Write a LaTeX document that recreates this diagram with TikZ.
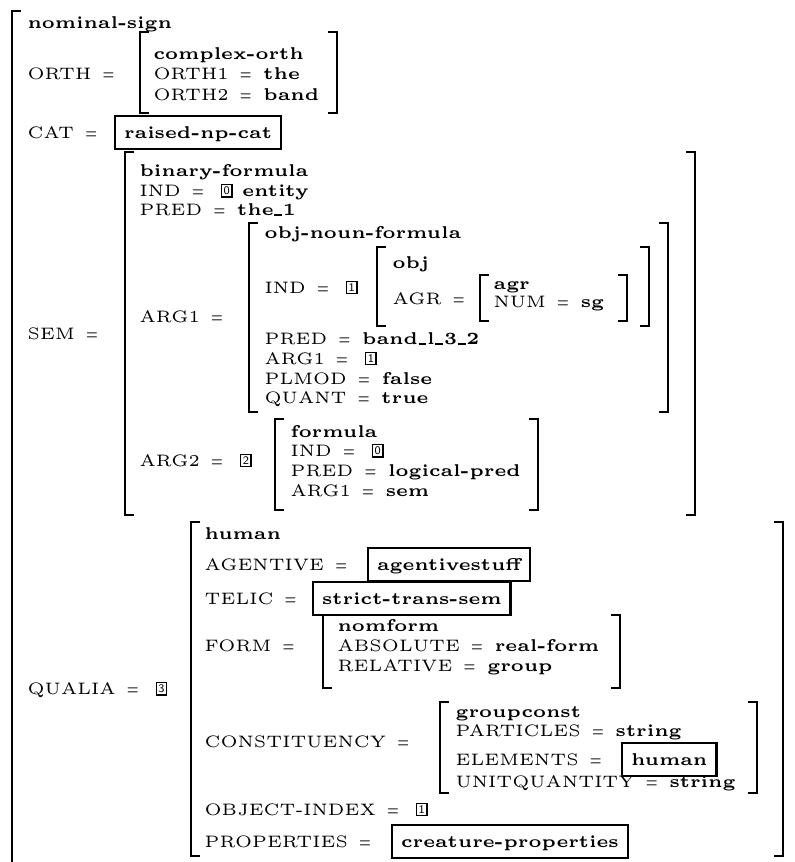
\documentclass[tikz,border=0pt]{standalone}
\usepackage{graphicx}
\newcommand\bv[1]{{\fontsize{5.3}{6}\selectfont\bfseries #1}}
\newcommand\us{\kern0.25pt\rule[-0.25pt]{2.4pt}{0.45pt}\kern0.25pt}
\newcommand\eq{\hspace{3.4pt}\scalebox{0.72}[1]{=}\hspace{3.6pt}}
\newcommand\tagbox[1]{\hspace{1.6pt}\raisebox{0.45pt}{\setlength\fboxrule{0.42pt}\setlength\fboxsep{0.45pt}\fbox{\fontsize{3.6}{3.6}\selectfont\sffamily #1}}}
\tikzset{
  lab/.style={anchor=base west, inner sep=0pt, font=\fontsize{5.15}{6}\selectfont},
  boxv/.style={draw, line width=0.8pt, anchor=base west, outer sep=0pt, inner xsep=2.8pt, inner ysep=3.4pt,
    text height=3.4pt, text depth=0pt, font=\fontsize{5.3}{6}\selectfont\bfseries},
  brk/.style={line width=0.62pt}
}
\newcommand\lbr[3]{\draw[brk] (#1+9,#2) -- (#1,#2) -- (#1,#3) -- (#1+9,#3);}
\newcommand\rbr[3]{\draw[brk] (#1-9,#2) -- (#1,#2) -- (#1,#3) -- (#1-9,#3);}
\begin{document}
\begin{tikzpicture}[x=0.31pt,y=-0.31pt]
\useasboundingbox (0,0) rectangle (794,862);
% outer
\draw[brk] (21,11) -- (12,11) -- (12,862);
\node[lab] (ns) at (27,29) {\bv{nominal-sign}};
% ORTH
\node[lab] (orth) at (27,80) {ORTH\eq};
\lbr{140}{32}{113}\rbr{337}{32}{113}
\node[lab] (co) at (153,59) {\bv{complex-orth}};
\node[lab] (o1) at (153,80) {ORTH1\eq\bv{the}};
\node[lab] (o2) at (153,100) {ORTH2\eq\bv{band}};
% CAT
\node[lab] (cat) at (27,138) {CAT\eq};
\node[boxv] (catv) at (115,138) {raised-np-cat};
% SEM
\node[lab] (sem) at (27,339) {SEM\eq};
\lbr{125}{152}{515}\rbr{695}{152}{515}
\node[lab] (bf) at (139,176) {\bv{binary-formula}};
\node[lab] (ind0) at (139,196) {IND\eq\tagbox{0}\hspace{3pt}\bv{entity}};
\node[lab] (pred0) at (139,215) {PRED\eq\bv{the\us 1}};
\node[lab] (arg1l) at (139,322) {ARG1\eq};
\lbr{249}{223}{412}\rbr{668}{223}{412}
\node[lab] (onf) at (264,238) {\bv{obj-noun-formula}};
\node[lab] (ind1) at (264,293) {IND\eq\tagbox{1}};
\lbr{377}{247}{326}\rbr{649}{247}{326}
\node[lab] (obj) at (392,268) {\bv{obj}};
\node[lab] (agr) at (392,304) {AGR\eq};
\lbr{480}{275}{321}\rbr{627}{275}{321}
\node[lab] (agrt) at (493,289) {\bv{agr}};
\node[lab] (num) at (493,307) {NUM\eq\bv{sg}};
\node[lab] (predb) at (264,344) {PRED\eq\bv{band\us l\us 3\us 2}};
\node[lab] (a1) at (264,364) {ARG1\eq\tagbox{1}};
\node[lab] (pl) at (264,384) {PLMOD\eq\bv{false}};
\node[lab] (qu) at (264,403) {QUANT\eq\bv{true}};
\node[lab] (arg2l) at (139,466) {ARG2\eq\tagbox{2}};
\lbr{275}{419}{510}\rbr{538}{419}{510}
\node[lab] (fo) at (290,437) {\bv{formula}};
\node[lab] (ind2) at (290,456) {IND\eq\tagbox{0}};
\node[lab] (pred2) at (290,476) {PRED\eq\bv{logical-pred}};
\node[lab] (a2) at (290,496) {ARG1\eq\bv{sem}};
% QUALIA
\node[lab] (qual) at (27,694) {QUALIA\eq\tagbox{3}};
\lbr{191}{522}{856}\rbr{783}{522}{856}
\node[lab] (hum) at (204,539) {\bv{human}};
\node[lab] (ag) at (204,570) {AGENTIVE\eq};
\node[boxv] (agv) at (368,570) {agentivestuff};
\node[lab] (tel) at (204,604) {TELIC\eq};
\node[boxv] (telv) at (313,604) {strict-trans-sem};
\node[lab] (form) at (204,651) {FORM\eq};
\lbr{323}{615}{688}\rbr{620}{615}{688}
\node[lab] (nf) at (337,631) {\bv{nomform}};
\node[lab] (abs) at (337,651) {ABSOLUTE\eq\bv{real-form}};
\node[lab] (rel) at (337,671) {RELATIVE\eq\bv{group}};
\node[lab] (cons) at (204,747) {CONSTITUENCY\eq};
\lbr{440}{702}{793}\rbr{757}{702}{793}
\node[lab] (gc) at (455,717) {\bv{groupconst}};
\node[lab] (part) at (455,736) {PARTICLES\eq\bv{string}};
\node[lab] (el) at (455,765) {ELEMENTS\eq};
\node[boxv] (elv) at (622,765) {human};
\node[lab] (uq) at (455,787) {UNITQUANTITY\eq\bv{string}};
\node[lab] (oi) at (204,815) {OBJECT-INDEX\eq\tagbox{1}};
\node[lab] (prop) at (204,847) {PROPERTIES\eq};
\node[boxv] (propv) at (392,847) {creature-properties};
\end{tikzpicture}
\end{document}
